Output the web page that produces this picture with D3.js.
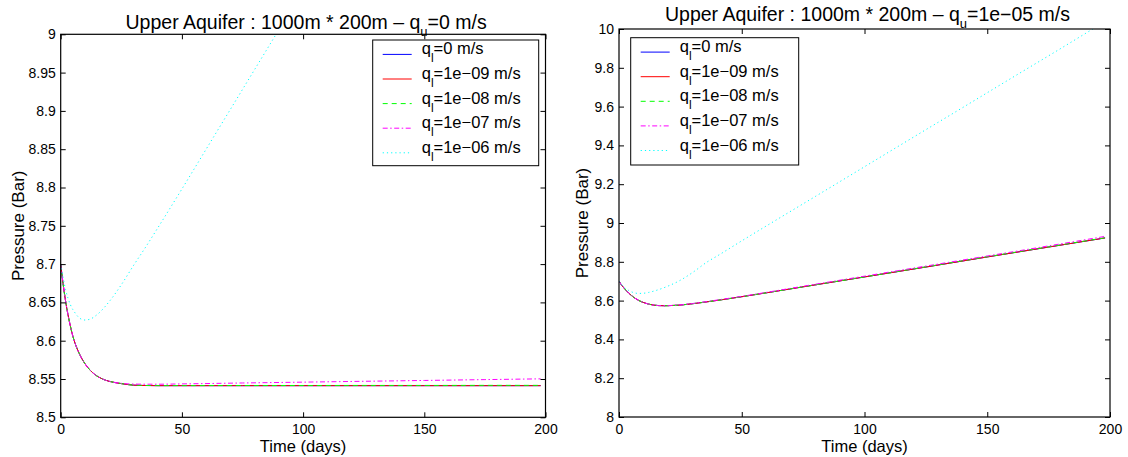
<!DOCTYPE html>
<html>
<head>
<meta charset="utf-8">
<script src="https://cdn.jsdelivr.net/npm/d3@7"></script>
<style>
  html, body { margin: 0; padding: 0; background: #ffffff; }
  svg { display: block; }
  text { font-family: "Liberation Sans", Arial, Helvetica, sans-serif; fill: #000; }
</style>
</head>
<body>
<svg id="chart" width="1128" height="457"></svg>
<script>
// ---------------- data ----------------
const xTickValues = [0, 50, 100, 150, 200];
const xTickLabels = ["0", "50", "100", "150", "200"];

const leftYTickValues = [8.5, 8.55, 8.6, 8.65, 8.7, 8.75, 8.8, 8.85, 8.9, 8.95, 9];
const leftYTickLabels = ["8.5", "8.55", "8.6", "8.65", "8.7", "8.75", "8.8", "8.85", "8.9", "8.95", "9"];
const rightYTickValues = [8, 8.2, 8.4, 8.6, 8.8, 9, 9.2, 9.4, 9.6, 9.8, 10];
const rightYTickLabels = ["8", "8.2", "8.4", "8.6", "8.8", "9", "9.2", "9.4", "9.6", "9.8", "10"];

const seriesLabels = ["0", "1e\u221209", "1e\u221208", "1e\u221207", "1e\u221206"];
const quLabels = ["0", "1e\u221205"];
const xAxisTitle = "Time (days)";
const yAxisTitle = "Pressure (Bar)";

// Left panel: q_u = 0 m/s
const leftTimeMain = [0, 1, 2, 3, 4, 5, 6, 8, 10, 12, 14, 16, 18, 20, 25, 30, 35, 40, 50, 75, 100, 125, 150, 175, 198];
const leftQl0    = [8.700, 8.674, 8.652, 8.634, 8.619, 8.606, 8.596, 8.581, 8.570, 8.562, 8.556, 8.552, 8.549, 8.547, 8.544, 8.542, 8.5415, 8.5413, 8.5413, 8.5413, 8.5413, 8.5413, 8.5413, 8.5413, 8.5413];
const leftQl1e9  = [8.700, 8.674, 8.652, 8.634, 8.619, 8.606, 8.596, 8.581, 8.570, 8.562, 8.556, 8.552, 8.549, 8.547, 8.544, 8.542, 8.5415, 8.5413, 8.5413, 8.5413, 8.5413, 8.5413, 8.5413, 8.5413, 8.5413];
const leftQl1e8  = [8.700, 8.674, 8.652, 8.634, 8.619, 8.606, 8.596, 8.581, 8.570, 8.562, 8.556, 8.552, 8.549, 8.547, 8.544, 8.542, 8.5416, 8.5414, 8.5414, 8.5415, 8.5415, 8.5416, 8.5416, 8.5417, 8.5417];
const leftQl1e7  = [8.700, 8.674, 8.652, 8.634, 8.619, 8.606, 8.596, 8.581, 8.570, 8.562, 8.556, 8.552, 8.549, 8.547, 8.5443, 8.5434, 8.5432, 8.5432, 8.5436, 8.5448, 8.5459, 8.5470, 8.5481, 8.5492, 8.5502];
const leftTimeCyan = [0, 2, 4, 6, 8, 10, 12, 15, 20, 25, 30, 35, 40, 50, 60, 70, 80, 90, 100];
const leftQl1e6  = [8.700, 8.667, 8.647, 8.636, 8.629, 8.627, 8.628, 8.634, 8.651, 8.673, 8.698, 8.722, 8.747, 8.798, 8.850, 8.902, 8.954, 9.006, 9.058];

// Right panel: q_u = 1e-05 m/s
const rightTimeMain = [0, 1, 2, 3, 4, 5, 6, 8, 10, 12, 14, 16, 18, 20, 25, 30, 40, 50, 75, 100, 125, 150, 175, 198];
const rightQl0   = [8.700, 8.681, 8.665, 8.651, 8.638, 8.627, 8.617, 8.601, 8.590, 8.582, 8.577, 8.5745, 8.5735, 8.5738, 8.577, 8.584, 8.601, 8.620, 8.671, 8.722, 8.773, 8.825, 8.876, 8.923];
const rightQl1e9 = [8.700, 8.681, 8.665, 8.651, 8.638, 8.627, 8.617, 8.601, 8.590, 8.582, 8.577, 8.5745, 8.5735, 8.5738, 8.577, 8.584, 8.601, 8.620, 8.671, 8.722, 8.773, 8.825, 8.876, 8.923];
const rightQl1e8 = [8.700, 8.681, 8.665, 8.651, 8.638, 8.627, 8.617, 8.601, 8.590, 8.582, 8.577, 8.5745, 8.5735, 8.5738, 8.577, 8.584, 8.601, 8.620, 8.671, 8.722, 8.774, 8.826, 8.877, 8.924];
const rightQl1e7 = [8.700, 8.681, 8.665, 8.651, 8.638, 8.627, 8.617, 8.601, 8.590, 8.582, 8.577, 8.5745, 8.5737, 8.5742, 8.578, 8.585, 8.603, 8.622, 8.674, 8.726, 8.778, 8.830, 8.882, 8.931];
const rightTimeCyan = [0, 2, 4, 6, 8, 10, 12, 15, 20, 25, 30, 36, 40, 50, 62, 80, 100, 120, 140, 160, 180, 193, 198];
const rightQl1e6 = [8.700, 8.670, 8.652, 8.641, 8.637, 8.638, 8.642, 8.652, 8.675, 8.705, 8.745, 8.800, 8.830, 8.908, 9.000, 9.137, 9.290, 9.443, 9.595, 9.748, 9.900, 10.000, 10.038];

// ---------------- styles ----------------
const lineStyles = [
  { color: "#0000ff", dash: null },
  { color: "#ff0000", dash: null },
  { color: "#00ff00", dash: "5,4" },
  { color: "#ff00ff", dash: "5,2.5,1.5,2.5" },
  { color: "#00ffff", dash: "1.2,3" }
];

const svg = d3.select("#chart");

function zip(t, v) { return t.map((d, i) => [d, v[i]]); }

function drawPanel(p, idx) {
  const x = d3.scaleLinear().domain([0, 200]).range([p.x0, p.x1]);
  const y = d3.scaleLinear().domain(p.yDomain).range([p.y1, p.y0]);
  const g = svg.append("g");

  const clipId = "clip" + idx;
  svg.append("defs").append("clipPath").attr("id", clipId)
    .append("rect").attr("x", p.x0).attr("y", p.y0)
    .attr("width", p.x1 - p.x0).attr("height", p.y1 - p.y0);

  // curves
  const line = d3.line().x(d => x(d[0])).y(d => y(d[1])).curve(d3.curveMonotoneX);
  const cg = g.append("g").attr("clip-path", `url(#${clipId})`);
  p.series.forEach((s, i) => {
    const st = lineStyles[i];
    cg.append("path")
      .attr("d", line(zip(s.t, s.v)))
      .attr("fill", "none")
      .attr("stroke", st.color)
      .attr("stroke-width", 1)
      .attr("stroke-dasharray", st.dash);
  });

  // axes
  const fmtX = (d, i) => xTickLabels[i];
  const fmtY = (d, i) => p.yLabels[i];
  const axB = g.append("g").attr("transform", `translate(0,${p.y1})`)
    .call(d3.axisBottom(x).tickValues(xTickValues).tickFormat(fmtX).tickSize(-5).tickSizeOuter(0).tickPadding(7));
  const axT = g.append("g").attr("transform", `translate(0,${p.y0})`)
    .call(d3.axisTop(x).tickValues(xTickValues).tickFormat("").tickSize(-5).tickSizeOuter(0));
  const axL = g.append("g").attr("transform", `translate(${p.x0},0)`)
    .call(d3.axisLeft(y).tickValues(p.yTicks).tickFormat(fmtY).tickSize(-5).tickSizeOuter(0).tickPadding(5));
  const axR = g.append("g").attr("transform", `translate(${p.x1},0)`)
    .call(d3.axisRight(y).tickValues(p.yTicks).tickFormat("").tickSize(-5).tickSizeOuter(0));
  [axB, axT, axL, axR].forEach(a => {
    a.attr("font-family", null).attr("font-size", null);
    a.select(".domain").remove();
    a.selectAll(".tick line").attr("stroke", "#000").attr("stroke-width", 1);
    a.selectAll(".tick text").style("font-size", "14px").attr("fill", "#000");
  });

  // frame
  g.append("rect").attr("x", p.x0).attr("y", p.y0)
    .attr("width", p.x1 - p.x0).attr("height", p.y1 - p.y0)
    .attr("fill", "none").attr("stroke", "#000").attr("stroke-width", 1.2);

  // title
  const tt = g.append("text")
    .attr("x", (p.x0 + p.x1) / 2 + 3).attr("y", p.titleY)
    .attr("text-anchor", "middle").style("font-size", "19.5px");
  tt.append("tspan").text("Upper Aquifer : 1000m * 200m \u2013 q");
  tt.append("tspan").attr("dy", 7).style("font-size", "13px").text("u");
  tt.append("tspan").attr("dy", -7).text("=" + p.qu + " m/s");

  // x label
  g.append("text").attr("x", (p.x0 + p.x1) / 2).attr("y", 452)
    .attr("text-anchor", "middle").style("font-size", "16.5px").text(xAxisTitle);

  // y label
  g.append("text")
    .attr("transform", `translate(${p.ylabelX},${(p.y0 + p.y1) / 2}) rotate(-90)`)
    .attr("text-anchor", "middle").style("font-size", "17px").text(yAxisTitle);

  // legend
  const lg = g.append("g");
  lg.append("rect").attr("x", p.legX).attr("y", p.legY)
    .attr("width", p.legW).attr("height", p.legH)
    .attr("fill", "#fff").attr("stroke", "#000").attr("stroke-width", 1);
  seriesLabels.forEach((lab, i) => {
    const ly = p.legY + 14.4 + 24.6 * i;
    const st = lineStyles[i];
    lg.append("line").attr("x1", p.legX + 10).attr("x2", p.legX + 39)
      .attr("y1", ly).attr("y2", ly)
      .attr("stroke", st.color).attr("stroke-width", 1)
      .attr("stroke-dasharray", st.dash);
    const t = lg.append("text").attr("x", p.legX + 49).attr("y", ly).style("font-size", "16.5px");
    t.append("tspan").text("q");
    t.append("tspan").attr("dy", 8).style("font-size", "12px").text("l");
    t.append("tspan").attr("dy", -8).text("=" + lab + " m/s");
  });
}

const panels = [
  {
    x0: 60.7, x1: 545.5, y0: 34.3, y1: 417.3, titleY: 29,
    yDomain: [8.5, 9], yTicks: leftYTickValues, yLabels: leftYTickLabels,
    qu: quLabels[0], ylabelX: 23.5,
    legX: 372.7, legY: 40, legW: 166, legH: 125.7,
    series: [
      { t: leftTimeMain, v: leftQl0 },
      { t: leftTimeMain, v: leftQl1e9 },
      { t: leftTimeMain, v: leftQl1e8 },
      { t: leftTimeMain, v: leftQl1e7 },
      { t: leftTimeCyan, v: leftQl1e6 }
    ]
  },
  {
    x0: 619, x1: 1110, y0: 29, y1: 417, titleY: 21,
    yDomain: [8, 10], yTicks: rightYTickValues, yLabels: rightYTickLabels,
    qu: quLabels[1], ylabelX: 588,
    legX: 630.7, legY: 37.7, legW: 168, legH: 127.3,
    series: [
      { t: rightTimeMain, v: rightQl0 },
      { t: rightTimeMain, v: rightQl1e9 },
      { t: rightTimeMain, v: rightQl1e8 },
      { t: rightTimeMain, v: rightQl1e7 },
      { t: rightTimeCyan, v: rightQl1e6 }
    ]
  }
];

panels.forEach(drawPanel);
</script>
</body>
</html>
